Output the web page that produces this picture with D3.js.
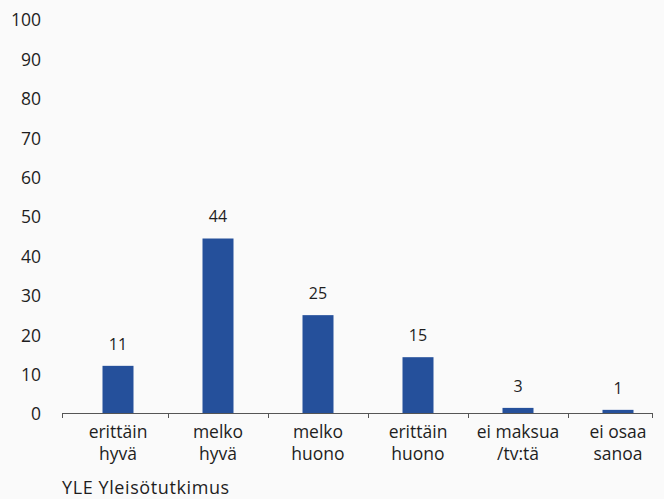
<!DOCTYPE html>
<html>
<head>
<meta charset="utf-8">
<script src="https://cdn.jsdelivr.net/npm/d3@7"></script>
<style>
  html, body { margin: 0; padding: 0; background: #fafafa; }
  svg { display: block; }
  text { font-family: "Open Sans", "Noto Sans", sans-serif; fill: #1e1e1e; }
</style>
</head>
<body>
<script>
const categories = [["erittäin", "hyvä"], ["melko", "hyvä"], ["melko", "huono"], ["erittäin", "huono"], ["ei maksua", "/tv:tä"], ["ei osaa", "sanoa"]];
const values = [12, 44.4, 24.9, 14.2, 1.3, 0.8];
const valueLabels = ["11", "44", "25", "15", "3", "1"];
const yTicks = [0, 10, 20, 30, 40, 50, 60, 70, 80, 90, 100];
const source = "YLE Yleisötutkimus";

const W = 664, H = 499;
const svg = d3.select("body").append("svg").attr("width", W).attr("height", H);
svg.append("rect").attr("width", W).attr("height", H).attr("fill", "#fafafa");

const keys = categories.map((c, i) => i);
const x = d3.scaleBand().domain(keys).range([68, 668]).padding(0);
const y = d3.scaleLinear().domain([0, 100]).range([413, 20]);
const cx = i => x(i) + x.bandwidth() / 2;
const axisX0 = 62, axisX1 = 652;

// y tick labels
svg.append("g").selectAll("text").data(yTicks).join("text")
  .attr("x", 41).attr("y", d => y(d) + 1 - d * 0.01).attr("dy", "0.36em")
  .attr("text-anchor", "end").attr("font-size", 17.5).text(d => d);

// bars
const bw = 31;
svg.append("g").selectAll("rect").data(values).join("rect")
  .attr("x", (d, i) => cx(i) - bw / 2)
  .attr("width", bw)
  .attr("y", d => y(d))
  .attr("height", d => y(0) - y(d))
  .attr("fill", "#25509b");

// value labels
svg.append("g").selectAll("text").data(values).join("text")
  .attr("x", (d, i) => cx(i))
  .attr("y", d => y(d) - 22).attr("dy", "0.36em")
  .attr("text-anchor", "middle").attr("font-size", 16)
  .text((d, i) => valueLabels[i]);

// x axis
const axis = svg.append("g");
axis.append("line").attr("x1", axisX0).attr("x2", axisX1).attr("y1", 413.5).attr("y2", 413.5)
  .attr("stroke", "#555").attr("stroke-width", 1);
const bounds = [axisX0].concat(keys.slice(1).map(k => x(k))).concat([axisX1]);
axis.selectAll("line.t").data(bounds).join("line").attr("class", "t")
  .attr("x1", d => Math.round(d) + 0.5).attr("x2", d => Math.round(d) + 0.5)
  .attr("y1", 413).attr("y2", 418).attr("stroke", "#555");

// category labels
const cl = svg.append("g").selectAll("text").data(categories).join("text")
  .attr("text-anchor", "middle").attr("font-size", 17.5);
cl.each(function(d, i) {
  const t = d3.select(this);
  d.forEach((line, j) => {
    t.append("tspan").attr("x", cx(i)).attr("y", 438 + j * 22).text(line);
  });
});

svg.append("text").attr("x", 62).attr("y", 494).attr("font-size", 18)
  .attr("letter-spacing", 0.6).text(source);
</script>
</body>
</html>
